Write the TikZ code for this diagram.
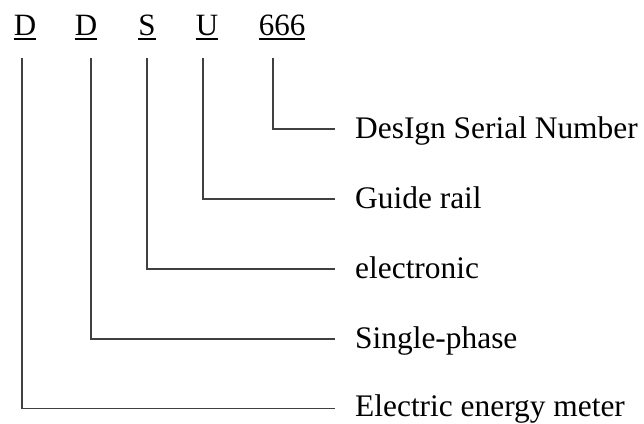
\documentclass[tikz,border=0pt]{standalone}
\usepackage{fontspec}
\setmainfont{Liberation Serif}
\definecolor{linegray}{HTML}{404040}
\begin{document}
\begin{tikzpicture}[x=1pt,y=-1pt,
  code/.style={anchor=base,inner sep=0pt,font=\fontsize{31}{36}\selectfont},
  lab/.style={anchor=base west,inner sep=0pt,font=\fontsize{31.4}{36}\selectfont},
  conn/.style={draw=linegray,line width=1.8pt},
  uline/.style={draw=black,line width=1.3pt}]
\useasboundingbox (0,0) rectangle (644,423);
% codes
\node[code] (d1) at (25,35) {D};
\node[code] (d2) at (86,35) {D};
\node[code] (s) at (147,35) {S};
\node[code] (u) at (207,35) {U};
\node[code] (n) at (282,35) {666};
\foreach \t in {d1,d2,s,u,n}
  \draw[uline] ([yshift=-4pt]\t.base west) -- ([yshift=-4pt]\t.base east);
% connector start points
\coordinate (c1) at (22,58);
\coordinate (c2) at (91,58);
\coordinate (c3) at (147,58);
\coordinate (c4) at (203,58);
\coordinate (c5) at (273,58);
% connector end points
\coordinate (e5) at (335,129);
\coordinate (e4) at (335,199);
\coordinate (e3) at (335,269);
\coordinate (e2) at (335,339);
\coordinate (e1) at (335,408.5);
% labels
\node[lab] (l5) at (355,138.5) {DesIgn Serial Number};
\node[lab] (l4) at (355,208.5) {Guide rail};
\node[lab] (l3) at (355,278.5) {electronic};
\node[lab] (l2) at (355,348.5) {Single-phase};
\node[lab] (l1) at (355,416) {Electric energy meter};
% connectors
\draw[conn] (c5) |- (e5);
\draw[conn] (c4) |- (e4);
\draw[conn] (c3) |- (e3);
\draw[conn] (c2) |- (e2);
\draw[conn] (c1) |- (e1);
\end{tikzpicture}
\end{document}
